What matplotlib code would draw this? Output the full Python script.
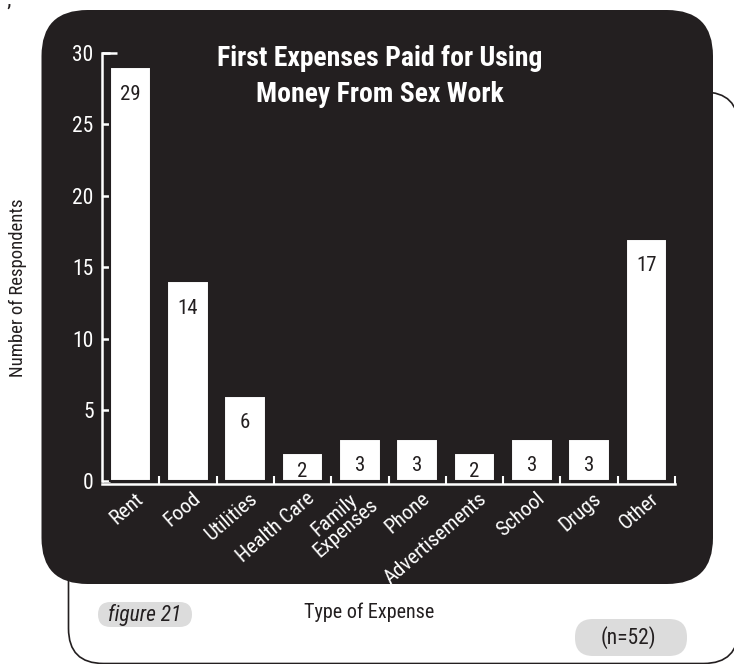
import matplotlib
matplotlib.use("Agg")
import matplotlib.pyplot as plt
from matplotlib.patches import FancyBboxPatch

plt.rcParams['font.family'] = ['Roboto Condensed', 'Liberation Sans', 'DejaVu Sans']

# data
categories = ["Rent", "Food", "Utilities", "Health Care", "Family\nExpenses",
              "Phone", "Advertisements", "School", "Drugs", "Other"]
respondents = [29, 14, 6, 2, 3, 3, 2, 3, 3, 17]
y_ticks = [0, 5, 10, 15, 20, 25, 30]

dark = "#231f20"
pill = "#dcdcdc"

fig = plt.figure(figsize=(7.34, 6.64), dpi=100)

# background layer in pixel coordinates
bg = fig.add_axes([0, 0, 1, 1])
bg.set_xlim(0, 734)
bg.set_ylim(664, 0)
bg.axis("off")

outline = FancyBboxPatch((68.5, 92), 670, 571.5,
                         boxstyle="round,pad=0,rounding_size=35",
                         facecolor="white", edgecolor=dark, linewidth=1.2, zorder=0)
bg.add_patch(outline)
panel = FancyBboxPatch((41.5, 10), 671.5, 574,
                       boxstyle="round,pad=0,rounding_size=46",
                       facecolor=dark, edgecolor="none", zorder=1)
bg.add_patch(panel)

bg.add_patch(FancyBboxPatch((98, 602), 94, 25, boxstyle="round,pad=0,rounding_size=12.5",
                            facecolor=pill, edgecolor="none", zorder=1))
bg.add_patch(FancyBboxPatch((575, 619), 112, 37, boxstyle="round,pad=0,rounding_size=18",
                            facecolor=pill, edgecolor="none", zorder=1))

bg.text(145, 615, "figure 21", fontsize=15.5, style="italic", color=dark,
        ha="center", va="center", zorder=2)
bg.text(628, 638, "(n=52)", fontsize=15.5, color=dark, ha="center", va="center", zorder=2)
bg.text(369, 612, "Type of Expense", fontsize=14.5, color=dark, ha="center", va="center", zorder=2)
bg.text(18, 288, "Number of Respondents", fontsize=13.5, color=dark, rotation=90,
        ha="center", va="center", zorder=2)
bg.text(9, 14, "\u2019", fontsize=16, color=dark, ha="center", va="center", zorder=2)

bg.text(380, 66, "First Expenses Paid for Using", fontsize=20, fontweight="bold",
        color="white", ha="center", va="baseline", zorder=2)
bg.text(380, 102, "Money From Sex Work", fontsize=20, fontweight="bold",
        color="white", ha="center", va="baseline", zorder=2)

# chart
ax = fig.add_axes([102 / 734, 1 - 483.5 / 664, 573 / 734, 430.5 / 664])
ax.patch.set_alpha(0)
x = list(range(len(categories)))
ax.bar(x, respondents, width=0.725, color="white", edgecolor=dark, linewidth=1.5, zorder=2)

ax.set_xlim(-0.5, len(categories) - 0.5)
ax.set_ylim(-0.15, 30)

for side in ["top", "right"]:
    ax.spines[side].set_visible(False)
for side in ["left", "bottom"]:
    ax.spines[side].set_color("white")
    ax.spines[side].set_linewidth(1.8)
ax.spines["left"].set_bounds(0, 30)

ax.set_yticks(y_ticks)
ax.set_yticklabels([str(t) for t in y_ticks])
ax.tick_params(axis="y", direction="in", length=6, width=1.8, color="white",
               labelcolor="white", labelsize=15.5, pad=6)
ax.plot([-0.5, -0.24], [30, 30], color="white", linewidth=1.8, clip_on=False,
        solid_capstyle="butt", zorder=3)

ax.set_xticks([i + 0.5 for i in x])
ax.set_xticklabels([])
ax.tick_params(axis="x", direction="in", length=6, width=1.5, color="white")

for i, name in enumerate(categories):
    ax.annotate(name, xy=(i, 0), xycoords=("data", "axes fraction"),
                xytext=(7, -9), textcoords="offset points",
                rotation=41, rotation_mode="anchor", ha="right", va="center",
                multialignment="center", linespacing=0.9,
                color="white", fontsize=15, annotation_clip=False)

for i, v in enumerate(respondents):
    ax.text(i, v - min(1.88, 0.66 * v), str(v), ha="center", va="center",
            color=dark, fontsize=15, zorder=3)

fig.savefig("out.png", dpi=100)
